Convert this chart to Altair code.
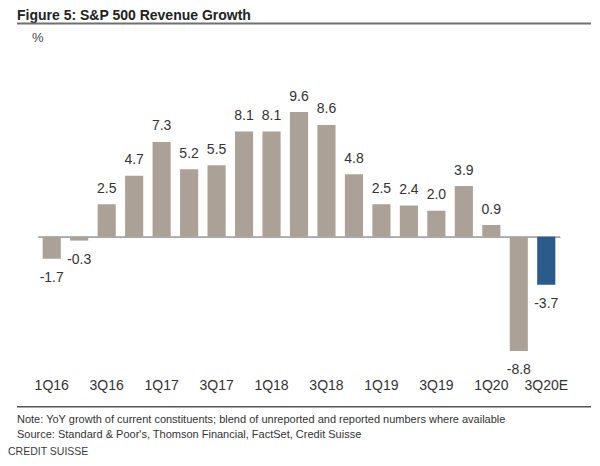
import altair as alt
import pandas as pd

quarters = ["1Q16", "2Q16", "3Q16", "4Q16", "1Q17", "2Q17", "3Q17", "4Q17",
            "1Q18", "2Q18", "3Q18", "4Q18", "1Q19", "2Q19", "3Q19", "4Q19",
            "1Q20", "2Q20", "3Q20E"]
growth = [-1.7, -0.3, 2.5, 4.7, 7.3, 5.2, 5.5, 8.1, 8.1, 9.6, 8.6, 4.8,
          2.5, 2.4, 2.0, 3.9, 0.9, -8.8, -3.7]
kind = ["Reported"] * 18 + ["Estimate"]
tick_labels = ["1Q16", "3Q16", "1Q17", "3Q17", "1Q18", "3Q18", "1Q19",
               "3Q19", "1Q20", "3Q20E"]

title_text = "Figure 5: S&P 500 Revenue Growth"
unit_text = "%"
note_lines = [
    "Note: YoY growth of current constituents; blend of unreported and reported numbers where available",
    "Source: Standard & Poor's, Thomson Financial, FactSet, Credit Suisse",
]
footer_text = "CREDIT SUISSE"

FONT = "Liberation Sans"
TXT = "#333333"

df = pd.DataFrame({
    "quarter": quarters,
    "growth": growth,
    "kind": kind,
    "label": [f"{v:.1f}" for v in growth],
})

x = alt.X(
    "quarter:N", sort=quarters,
    scale=alt.Scale(paddingInner=0.34, paddingOuter=0.17),
    axis=alt.Axis(values=tick_labels, title=None, domain=False, ticks=False,
                  labelAngle=0, labelFontSize=14, labelFont=FONT,
                  labelColor=TXT, labelPadding=34, labelBaseline="middle",
                  labelOverlap=False, grid=False),
)
y_scale = alt.Scale(domain=[-8.8, 9.6], nice=False)
y_axis = alt.Axis(values=[0], grid=True, gridColor="#a8a8a8", gridWidth=1,
                  domain=False, ticks=False, labels=False, title=None)
y = alt.Y("growth:Q", scale=y_scale, axis=y_axis)

base = alt.Chart(df)

bars = base.mark_bar().encode(
    x=x, y=y,
    color=alt.Color("kind:N",
                    scale=alt.Scale(domain=["Reported", "Estimate"],
                                    range=["#aba197", "#2b5b8a"]),
                    legend=None),
)

zero = alt.Chart(pd.DataFrame({"z": [0.0]})).mark_rule(
    color="#a8a8a8", strokeWidth=1
).encode(
    x=alt.value(0), x2=alt.value(522),
    y=alt.Y("z:Q", scale=y_scale, axis=y_axis),
)

pos_labels = base.transform_filter("datum.growth >= 0").mark_text(
    baseline="alphabetic", dy=-11.5, fontSize=14, font=FONT, color=TXT
).encode(x=x, y=y, text="label:N")

neg_labels = base.transform_filter("datum.growth < 0").mark_text(
    baseline="top", dy=12, fontSize=14, font=FONT, color=TXT
).encode(x=x, y=y, text="label:N")

title = alt.Chart(pd.DataFrame({"t": [title_text]})).mark_text(
    align="left", baseline="alphabetic", fontSize=14, fontWeight="bold",
    font=FONT, color="#222222"
).encode(x=alt.value(-21), y=alt.value(-92.3), text="t:N")

title_rule = alt.Chart(pd.DataFrame({"t": [title_text]})).mark_rule(
    color="#707070", strokeWidth=2
).encode(x=alt.value(-21), x2=alt.value(553), y=alt.value(-88.5))

unit = alt.Chart(pd.DataFrame({"t": [unit_text]})).mark_text(
    align="left", baseline="alphabetic", fontSize=13, font=FONT, color="#444444"
).encode(x=alt.value(-6), y=alt.value(-70.5), text="t:N")

bottom_rule = alt.Chart(pd.DataFrame({"t": [note_lines[0]]})).mark_rule(
    color="#555555", strokeWidth=1.5
).encode(x=alt.value(-21), x2=alt.value(553), y=alt.value(294.7))

note1 = alt.Chart(pd.DataFrame({"t": [note_lines[0]]})).mark_text(
    align="left", baseline="alphabetic", fontSize=11, font=FONT, color=TXT
).encode(x=alt.value(-21), y=alt.value(311.3), text="t:N")

note2 = alt.Chart(pd.DataFrame({"t": [note_lines[1]]})).mark_text(
    align="left", baseline="alphabetic", fontSize=11, font=FONT, color=TXT
).encode(x=alt.value(-21), y=alt.value(325.7), text="t:N")

footer = alt.Chart(pd.DataFrame({"t": [footer_text]})).mark_text(
    align="left", baseline="alphabetic", fontSize=10.5, font=FONT, color="#3a3a3a"
).encode(x=alt.value(-30), y=alt.value(343.3), text="t:N")

chart = alt.layer(
    zero, bars, pos_labels, neg_labels, title, title_rule, unit, bottom_rule,
    note1, note2, footer
).properties(
    width=522, height=239,
    autosize=alt.AutoSizeParams(type="none"),
    padding={"left": 30, "top": 104, "right": 32, "bottom": 107},
    background="white",
).configure_view(stroke=None)

chart.save("out.html", embed_options={"renderer": "svg", "actions": False})
